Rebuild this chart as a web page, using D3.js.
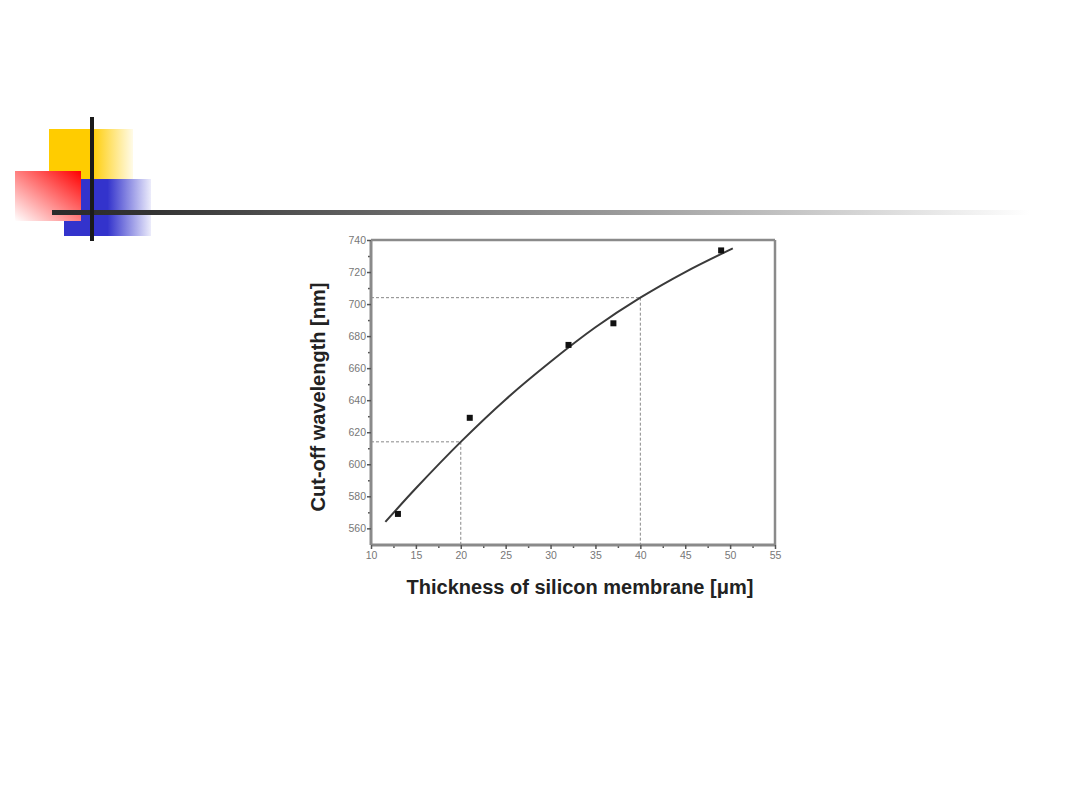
<!DOCTYPE html>
<html><head><meta charset="utf-8">
<script src="https://cdn.jsdelivr.net/npm/d3@7"></script>
<style>body{margin:0;background:#fff;}svg{display:block;}</style>
</head><body>
<script>
// Data
const measuredThickness = [13, 21, 32, 37, 49];
const measuredWavelength = [569, 629, 674.5, 688, 733.5];
const fitThickness = [11.6, 15, 20, 25, 30, 35, 40, 45, 50.3];
const fitWavelength = [564, 585, 614, 640.5, 664, 685.5, 704, 720, 734.8];
const guideThickness = [20, 40];
const guideWavelength = [614, 704];
const xTicks = [10, 15, 20, 25, 30, 35, 40, 45, 50, 55];
const yTicks = [560, 580, 600, 620, 640, 660, 680, 700, 720, 740];
const xLabel = "Thickness of silicon membrane [\u03bcm]";
const yLabel = "Cut-off wavelength [nm]";

const W = 1080, H = 810;
const svg = d3.select("body").append("svg").attr("width", W).attr("height", H);
const defs = svg.append("defs");

// Slide decorations
function lin(id, x1, y1, x2, y2, stops) {
  const g = defs.append("linearGradient").attr("id", id)
    .attr("x1", x1).attr("y1", y1).attr("x2", x2).attr("y2", y2);
  stops.forEach(s => g.append("stop").attr("offset", s[0]).attr("stop-color", s[1]));
}
lin("gYel", "0", "0", "1", "0", [[0, "#ffcc00"], [0.5, "#ffcc00"], [1, "#fffbe8"]]);
lin("gRed", "1", "0", "0", "1", [[0, "#ff0000"], [1, "#ffffff"]]);
lin("gBlue", "0", "0", "1", "0", [[0, "#3333cc"], [0.5, "#3333cc"], [1, "#ececfb"]]);
lin("gBar", "0", "0", "1", "0", [[0, "#2a2a2a"], [0.1, "#333333"], [0.58, "#9a9a9a"], [1, "#ffffff"]]);

svg.append("rect").attr("x", 49).attr("y", 129).attr("width", 84).attr("height", 52).attr("fill", "url(#gYel)");
svg.append("rect").attr("x", 64).attr("y", 179).attr("width", 87).attr("height", 57).attr("fill", "url(#gBlue)");
svg.append("rect").attr("x", 15).attr("y", 171).attr("width", 66).attr("height", 50).attr("fill", "url(#gRed)");
svg.append("rect").attr("x", 52).attr("y", 210).attr("width", 978).attr("height", 5).attr("fill", "url(#gBar)");
svg.append("rect").attr("x", 90).attr("y", 117).attr("width", 4).attr("height", 124).attr("fill", "#1a1a1a");

// Chart
const L = 371, R = 775, T = 240, B = 545;
const x = d3.scaleLinear().domain([10, 55]).range([L, R]);
const y = d3.scaleLinear().domain([549.6, 740]).range([B, T]);

const frameCol = "#8a8a8a";
const tickCol = "#555";
const labelCol = "#777";

// guides
const gd = svg.append("g").attr("stroke", "#888").attr("stroke-width", 1).attr("stroke-dasharray", "3,2").attr("fill", "none");
guideThickness.forEach((t, i) => {
  gd.append("line").attr("x1", x(10)).attr("x2", x(t)).attr("y1", y(guideWavelength[i])).attr("y2", y(guideWavelength[i]));
  gd.append("line").attr("x1", x(t)).attr("x2", x(t)).attr("y1", y(guideWavelength[i])).attr("y2", B);
});

// frame top/right
svg.append("line").attr("x1", L).attr("x2", R).attr("y1", T).attr("y2", T).attr("stroke", frameCol).attr("stroke-width", 2.5);
svg.append("line").attr("x1", R).attr("x2", R).attr("y1", T).attr("y2", B).attr("stroke", frameCol).attr("stroke-width", 2.5);

// axes
const xAx = d3.axisBottom(x).tickValues(xTicks).tickSize(4).tickPadding(3).tickFormat(d3.format("d"));
const xMinor = d3.axisBottom(x).tickValues(d3.range(12.5, 55, 5)).tickSize(3).tickFormat("");
const yAx = d3.axisLeft(y).tickValues(yTicks).tickSize(4).tickPadding(1).tickFormat(d3.format("d"));
const yMinor = d3.axisLeft(y).tickValues(d3.range(570, 740, 20)).tickSize(3).tickFormat("");

function style(g) {
  g.select(".domain").attr("stroke", frameCol).attr("stroke-width", 3);
  g.selectAll(".tick line").attr("stroke", tickCol).attr("stroke-width", 1.5);
  g.selectAll(".tick text").attr("fill", labelCol).attr("font-family", "Liberation Sans, Arial, sans-serif").attr("font-size", 10.5);
}
const gxm = svg.append("g").attr("transform", `translate(0,${B})`).call(xMinor); style(gxm); gxm.select(".domain").remove();
const gym = svg.append("g").attr("transform", `translate(${L},0)`).call(yMinor); style(gym); gym.select(".domain").remove();
const gx = svg.append("g").attr("transform", `translate(0,${B})`).call(xAx); style(gx);
const gy = svg.append("g").attr("transform", `translate(${L},0)`).call(yAx); style(gy);
gx.select(".domain").attr("d", `M${L},0H${R}`);
gy.select(".domain").attr("d", `M0,${T}V${B}`);

// fit curve
const fit = fitThickness.map((t, i) => [t, fitWavelength[i]]);
svg.append("path").datum(fit)
  .attr("d", d3.line().x(d => x(d[0])).y(d => y(d[1])).curve(d3.curveCatmullRom))
  .attr("fill", "none").attr("stroke", "#3a3a3a").attr("stroke-width", 2);

// points
svg.append("g").selectAll("rect").data(measuredThickness).join("rect")
  .attr("x", (d) => x(d) - 3).attr("y", (d, i) => y(measuredWavelength[i]) - 3)
  .attr("width", 6).attr("height", 6).attr("fill", "#111");

// labels
svg.append("text").attr("x", 580).attr("y", 594).attr("text-anchor", "middle")
  .attr("font-family", "Liberation Sans, Arial, sans-serif").attr("font-weight", "bold").attr("font-size", 20)
  .attr("fill", "#222").text(xLabel);
svg.append("text").attr("transform", `translate(325,397) rotate(-90)`).attr("text-anchor", "middle")
  .attr("font-family", "Liberation Sans, Arial, sans-serif").attr("font-weight", "bold").attr("font-size", 20)
  .attr("fill", "#222").text(yLabel);
</script>
</body></html>
